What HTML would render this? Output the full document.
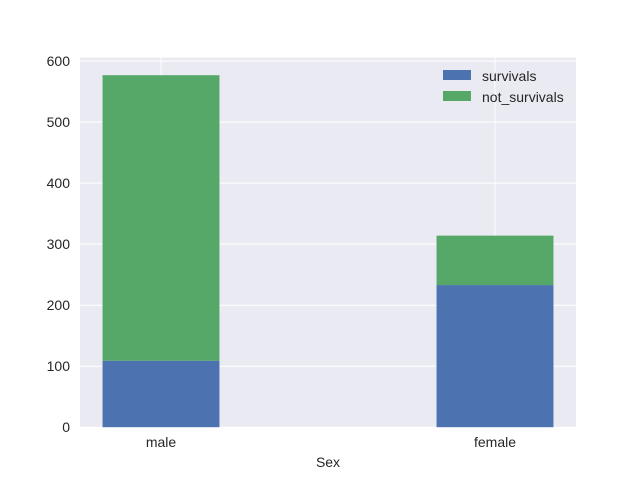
<!DOCTYPE html>
<html><head><meta charset="utf-8"><style>body{margin:0;background:#fff}svg{display:block;font-family:"Liberation Sans","DejaVu Sans",sans-serif}</style></head>
<body>
<svg id="chart" width="640" height="480"></svg>
<script>
const categories = ["male", "female"];
const survivals = [109, 233];
const notSurvivals = [468, 81];
const yTicks = [0, 100, 200, 300, 400, 500, 600];
const seriesNames = ["survivals", "not_survivals"];

const NS = "http://www.w3.org/2000/svg";
const svg = document.getElementById("chart");
const L = 80, R = 576, T = 57.6, B = 427.2;
const yMax = Math.max(...categories.map((c, i) => survivals[i] + notSurvivals[i])) * 1.05;
const y = v => B - v / yMax * (B - T);
const barW = 0.35;
const xMin = -barW / 2 - 0.05 * (categories.length - 1 + barW), xMax = categories.length - 1 + barW / 2 + 0.05 * (categories.length - 1 + barW);
const x = v => L + (v - xMin) / (xMax - xMin) * (R - L);
function mk(tag, attrs, parent) { const e = document.createElementNS(NS, tag); for (const k in attrs) e.setAttribute(k, attrs[k]); (parent || svg).appendChild(e); return e; }

const bg = mk("rect", { x: L, y: T, width: R - L, height: B - T, fill: "#eaeaf2" });



yTicks.forEach(t => {
  const g = mk("line", { x1: L, x2: R, y1: y(t), y2: y(t), stroke: "#fff", "stroke-width": 1 });
  
  
  const tx = mk("text", { x: L - 10, y: y(t) + 5, "text-anchor": "end", "font-size": 14, fill: "#262626" });
  tx.textContent = t;
  
  
});
categories.forEach((c, i) => {
  const g = mk("line", { x1: x(i), x2: x(i), y1: T, y2: B, stroke: "#fff", "stroke-width": 1 });
  
  
});
categories.forEach((c, i) => {
  const w = x(barW) - x(0);
  const b1 = mk("rect", { x: x(i) - w / 2, y: y(survivals[i]), width: w, height: B - y(survivals[i]), fill: "#4c72b0" });
  
  
  const top = survivals[i] + notSurvivals[i];
  const b2 = mk("rect", { x: x(i) - w / 2, y: y(top), width: w, height: y(survivals[i]) - y(top), fill: "#55a868" });
  
  
  const tx = mk("text", { x: x(i), y: B + 20, "text-anchor": "middle", "font-size": 14, fill: "#262626" });
  tx.textContent = c;
  
  
});
const xt = mk("text", { x: (L + R) / 2, y: 467, "text-anchor": "middle", "font-size": 14, fill: "#262626" });
xt.textContent = "Sex";



const colors = ["#4c72b0", "#55a868"];
seriesNames.forEach((n, i) => {
  const ly = 70 + i * 21;
  const p = mk("rect", { x: 443, y: ly, width: 28, height: 10, fill: colors[i] });
  
  
  const t = mk("text", { x: 482, y: ly + 11, "font-size": 14, fill: "#262626" });
  t.textContent = n;
  
  
});
</script>
</body></html>
